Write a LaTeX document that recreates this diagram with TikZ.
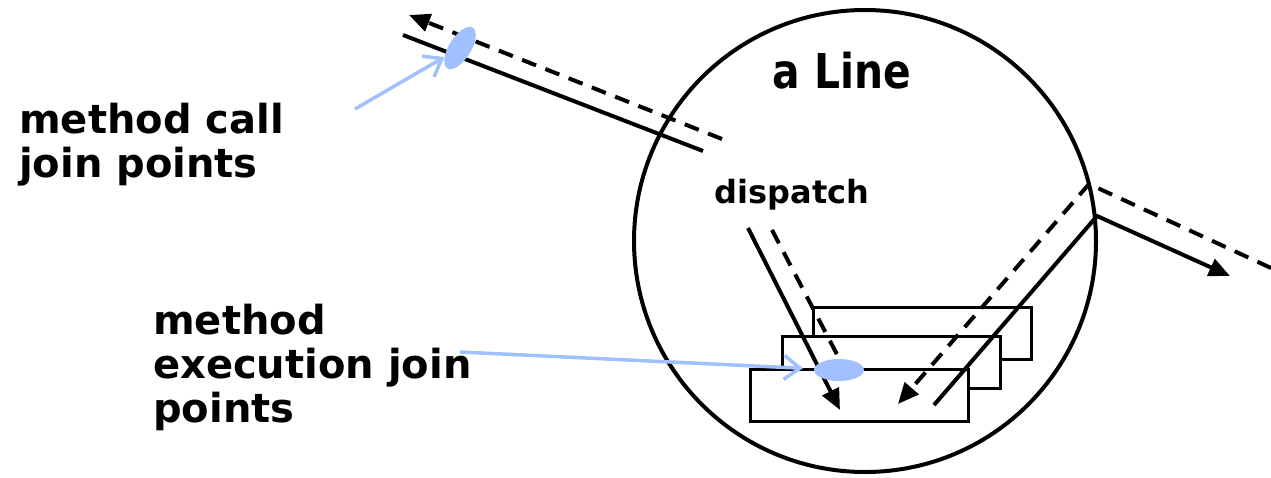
\documentclass[tikz,border=0pt]{standalone}
\usepackage{fontspec}
\usepackage{tikz}
\usetikzlibrary{arrows.meta,shapes.geometric}
\setsansfont{DejaVu Sans}
\newfontfamily\narrowsans{DejaVu Sans}[FakeStretch=0.85]
\definecolor{jp}{HTML}{A0C0FF}

\begin{document}
\begin{tikzpicture}[x=1pt,y=-1pt,
  lbl/.style={font=\sffamily\bfseries\fontsize{40}{44}\selectfont,
    align=left,inner sep=0pt,anchor=base west},
  obj/.style={circle,draw,line width=4pt,minimum size=462pt,inner sep=0pt},
  meth/.style={draw,line width=3pt,fill=white,minimum width=218pt,
    minimum height=52pt,inner sep=0pt},
  jpoint/.style={ellipse,fill=jp,inner sep=0pt,minimum width=48pt,minimum height=22pt},
  call/.style={line width=4pt},
  ret/.style={line width=4pt,dash pattern=on 15pt off 10pt},
  tip/.style={-{Triangle[length=21pt,width=18pt]}},
  jparr/.style={draw=jp,line width=3.5pt,-{Straight Barb[length=16pt,width=24pt]}}]
  \useasboundingbox (0,0) rectangle (1271,477);
  \node[obj] (line) at (865,241) {};
  \node[font=\narrowsans\bfseries\fontsize{48}{52}\selectfont,inner sep=0pt,
    anchor=base] (title) at (842,88) {a Line};
  \node[font=\sffamily\bfseries\fontsize{32}{34}\selectfont,inner sep=0pt,
    anchor=base] (disp) at (792,203) {dispatch};
  % the three method bodies, back to front
  \node[meth] (m3) at (922,333) {};
  \node[meth] (m2) at (891.5,362) {};
  \node[meth] (m1) at (859.5,395) {};
  % call coming in from the left and its return
  \coordinate (callA) at (403,35); \coordinate (callB) at (703,151);
  \coordinate (retA) at (722,139); \coordinate (retB) at (409,15);
  \draw[call] (callA) -- (callB);
  \draw[ret,tip] (retA) -- (retB);
  % dispatch into the method
  \coordinate (dA) at (748,228); \coordinate (dB) at (840,410);
  \coordinate (drA) at (772,230); \coordinate (drB) at (853,385);
  \draw[call,tip] (dA) -- (dB);
  \draw[ret] (drA) -- (drB);
  % outgoing call to the right and its return
  \coordinate (oA) at (934,405); \coordinate (oB) at (1097,216);
  \coordinate (oC) at (1230,276);
  \coordinate (orA) at (1271,268); \coordinate (orB) at (1089,184);
  \coordinate (orC) at (898,404);
  \draw[call,tip] (oA) -- (oB) -- (oC);
  \draw[ret,tip] (orA) -- (orB) -- (orC);
  % join points
  \node[jpoint,rotate=58] (calljp) at (460,48) {};
  \node[jpoint,minimum width=50pt] (execjp) at (839,370) {};
  \node[lbl] (calllbl) at (19,177) {method call\\join points};
  \node[lbl] (execlbl) at (153,422) {method\\execution join\\points};
  \coordinate (cjA) at (355,109); \coordinate (ejA) at (460,352);
  \draw[jparr] (cjA) -- (calljp);
  \draw[jparr,shorten >=11pt] (ejA) -- (execjp);
\end{tikzpicture}
\end{document}
